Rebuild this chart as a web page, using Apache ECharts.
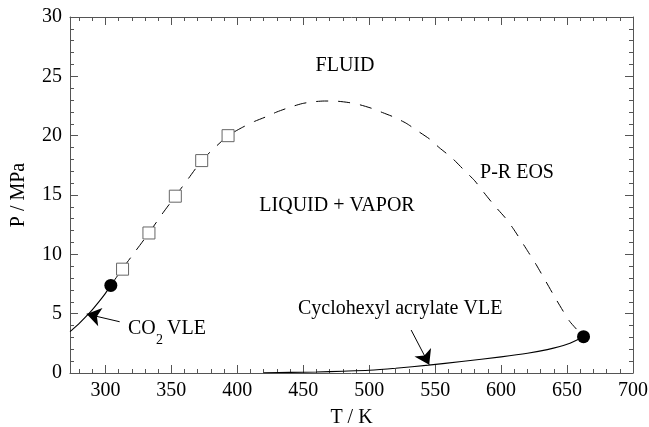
<!DOCTYPE html>
<html>
<head>
<meta charset="utf-8">
<script src="https://cdn.jsdelivr.net/npm/echarts@6/dist/echarts.min.js"></script>
<style>
    html, body { margin: 0; padding: 0; background: #fff; }
    #chart { width: 649px; height: 427px; }
</style>
</head>
<body>
<div id="chart"></div>
<script>
// P-R EOS 临界轨迹 (虚线)
const eosT = [304.1, 313, 323, 333, 343, 353, 363, 373, 383, 393, 403, 413, 422, 430, 440, 449, 457, 466, 475, 484, 493, 502, 510, 518, 528, 536, 546, 553, 563, 571, 580, 587, 595, 603, 609, 614, 620, 626.5, 634, 642, 652, 662.5];
const eosP = [7.38, 8.8, 10.3, 11.8, 13.4, 14.9, 16.4, 17.9, 19.0, 20.0, 20.65, 21.2, 21.6, 22.0, 22.4, 22.7, 22.85, 22.92, 22.91, 22.8, 22.6, 22.3, 21.95, 21.6, 21.05, 20.45, 19.7, 19.0, 18.1, 17.2, 16.2, 15.2, 14.1, 13.1, 12.2, 11.35, 10.3, 9.15, 7.7, 6.15, 4.35, 3.06];
// CO2 蒸汽压
const co2T = [273.15, 275, 280, 285, 290, 295, 300, 304.1];
const co2P = [3.49, 3.66, 4.16, 4.72, 5.32, 5.99, 6.71, 7.38];
// 丙烯酸环己酯 蒸汽压
const caT = [420, 440, 460, 480, 500, 520, 545, 570, 600, 620, 635, 650, 662.5];
const caP = [0.02, 0.05, 0.09, 0.15, 0.23, 0.4, 0.66, 0.97, 1.36, 1.66, 1.97, 2.42, 3.06];
// 实验点 (空心方块)
const expT = [313, 333, 353, 373, 393];
const expP = [8.75, 11.8, 14.9, 17.9, 20.0];
// 临界点 (实心圆)
const critT = [304.1, 662.5];
const critP = [7.38, 3.06];
// 刻度
const xMajorTicks = [300, 350, 400, 450, 500, 550, 600, 650, 700];
const xMinorTicks = [280, 290, 300, 310, 320, 330, 340, 350, 360, 370, 380, 390, 400, 410, 420, 430, 440, 450, 460, 470, 480, 490, 500, 510, 520, 530, 540, 550, 560, 570, 580, 590, 600, 610, 620, 630, 640, 650, 660, 670, 680, 690, 700];

const zip = (xs, ys) => xs.map((x, i) => [x, ys[i]]);
const FONT = "'Liberation Serif', 'Times New Roman', serif";
const AXIS_COLOR = '#555';

function xAxisDef(position, ticks, len, showLine, showLabel) {
    return {
        type: 'value', position: position, min: 273.15, max: 700,
        axisLine: { show: showLine, onZero: false, lineStyle: { color: AXIS_COLOR, width: 1 } },
        axisTick: { show: true, inside: true, length: len, customValues: ticks, lineStyle: { color: AXIS_COLOR } },
        axisLabel: { show: showLabel, customValues: xMajorTicks, color: '#000', fontFamily: FONT, fontSize: 20, margin: 8 },
        splitLine: { show: false }
    };
}
function yAxisDef(position, showLabel) {
    return {
        type: 'value', position: position, min: 0, max: 30, interval: 5,
        axisLine: { show: true, onZero: false, lineStyle: { color: AXIS_COLOR, width: 1 } },
        axisTick: { show: true, inside: true, length: 8, lineStyle: { color: AXIS_COLOR } },
        minorTick: { show: true, splitNumber: 5, length: 4, lineStyle: { color: AXIS_COLOR } },
        axisLabel: { show: showLabel, color: '#000', fontFamily: FONT, fontSize: 20, margin: 8 },
        splitLine: { show: false }
    };
}

const xAxes = [
    xAxisDef('bottom', xMajorTicks, 8, true, true),
    xAxisDef('bottom', xMinorTicks, 4, false, false),
    xAxisDef('top', xMajorTicks, 8, true, false),
    xAxisDef('top', xMinorTicks, 4, false, false)
];
Object.assign(xAxes[0], {
    name: 'T / K', nameLocation: 'middle', nameGap: 35,
    nameTextStyle: { color: '#000', fontFamily: FONT, fontSize: 20 }
});
const yAxes = [yAxisDef('left', true), yAxisDef('right', false)];
Object.assign(yAxes[0], {
    name: 'P / MPa', nameLocation: 'middle', nameGap: 41,
    nameTextStyle: { color: '#000', fontFamily: FONT, fontSize: 20 }
});

const textStyle = (text, x, y, align) => ({
    type: 'text', x: x, y: y,
    style: { text: text, fill: '#000', font: '20px ' + FONT, align: align || 'center', verticalAlign: 'middle' }
});

const chart = echarts.init(document.getElementById('chart'), null, { renderer: 'canvas' });
chart.setOption({
    animation: false,
    backgroundColor: '#fff',
    grid: { left: 70, right: 16, top: 17, bottom: 54, containLabel: false, outerBoundsMode: 'none' },
    xAxis: xAxes,
    yAxis: yAxes,
    series: [
        {
            name: 'P-R EOS', type: 'line', data: zip(eosT, eosP), showSymbol: false, smooth: 0.2,
            lineStyle: { color: '#000', width: 1, type: [12, 10] }, z: 2
        },
        {
            name: 'CO2 VLE', type: 'line', data: zip(co2T, co2P), showSymbol: false, smooth: 0.3,
            lineStyle: { color: '#000', width: 1.1 }, z: 2
        },
        {
            name: 'Cyclohexyl acrylate VLE', type: 'line', data: zip(caT, caP), showSymbol: false, smooth: 0.3,
            lineStyle: { color: '#000', width: 1.1 }, z: 2
        },
        {
            name: 'exp', type: 'scatter', data: zip(expT, expP), symbol: 'rect', symbolSize: 12,
            itemStyle: { color: '#fff', borderColor: '#666', borderWidth: 1, opacity: 1 }, z: 3
        },
        {
            name: 'crit', type: 'scatter', data: zip(critT, critP), symbol: 'circle', symbolSize: 13,
            itemStyle: { color: '#000', opacity: 1 }, z: 4
        },
        {
            // 注释箭头
            type: 'lines', coordinateSystem: 'cartesian2d',
            symbol: ['none', 'arrow'], symbolSize: 14,
            lineStyle: { color: '#000', width: 1, opacity: 1 },
            data: [
                { coords: [[310.8, 4.32], [285.8, 4.97]] },
                { coords: [[531.8, 3.62], [545.5, 0.7]] }
            ],
            z: 5
        }
    ],
    graphic: [
        textStyle('FLUID', 345, 65.5),
        textStyle('P-R EOS', 517, 172.5),
        textStyle('LIQUID + VAPOR', 337, 206),
        textStyle('Cyclohexyl acrylate VLE', 298, 309, 'left'),
        textStyle('CO', 128, 328.5, 'left'),
        { type: 'text', x: 156, y: 340, style: { text: '2', fill: '#000', font: '14px ' + FONT, align: 'left', verticalAlign: 'middle' } },
        textStyle('VLE', 167, 328.5, 'left')
    ]
});
</script>
</body>
</html>
